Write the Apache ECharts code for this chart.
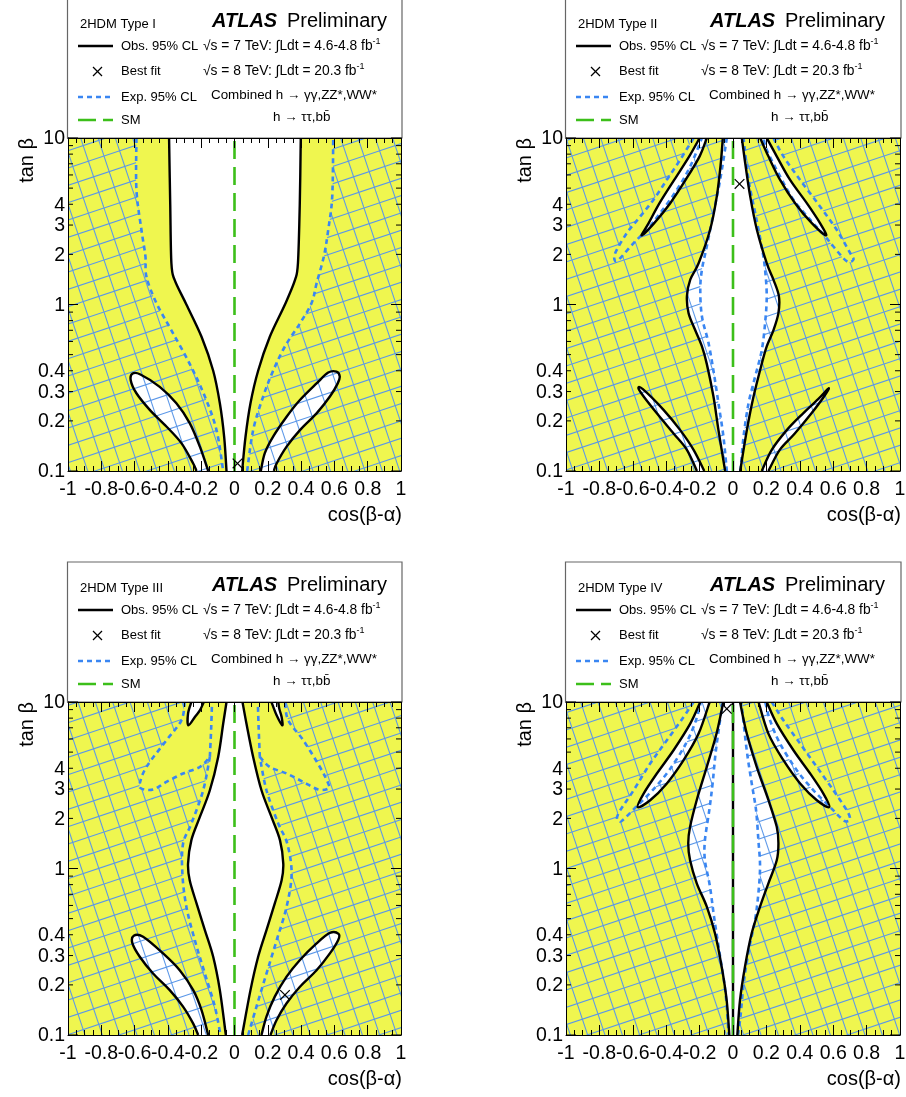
<!DOCTYPE html>
<html>
<head>
<meta charset="utf-8">
<title>2HDM tan beta vs cos(beta-alpha)</title>
<script src="https://cdn.jsdelivr.net/npm/echarts/dist/echarts.min.js"></script>
<style>html,body{margin:0;padding:0;background:#fff;}#chart{width:906px;height:1097px;}</style>
</head>
<body>
<div id="chart"></div>
<script>
// ================= DATA =================
const panelTitles = ['2HDM Type I', '2HDM Type II', '2HDM Type III', '2HDM Type IV'];
const xAxisTitle = 'cos(β-α)';
const yAxisTitle = 'tan β';
const yTickLabels = ['0.1', '0.2', '0.3', '0.4', '1', '2', '3', '4', '10'];
const yMajorTicks = [0.1, 1, 10];
const yMinorTicks = [0.2, 0.3, 0.4, 0.5, 0.6, 0.7, 0.8, 0.9, 2, 3, 4, 5, 6, 7, 8, 9];
const legendLabels = ['Obs. 95% CL', 'Best fit', 'Exp. 95% CL', 'SM'];

// ---- Type I ----
const p1ObsCL = [[-0.393,10],[-0.386,4],[-0.379,1.77],[-0.359,1.4],[-0.289,1.0],[-0.198,0.64],[-0.128,0.40],[-0.088,0.255],[-0.062,0.16],[-0.048,0.1]];
const p1ObsCR = [[0.398,10],[0.392,4],[0.381,1.77],[0.363,1.4],[0.303,1.0],[0.212,0.64],[0.142,0.40],[0.096,0.255],[0.066,0.16],[0.046,0.1]];
const p1ExpL = [[-0.589,10],[-0.589,4.89],[-0.559,2.81],[-0.535,1.95],[-0.529,1.47],[-0.469,1.02],[-0.379,0.70],[-0.269,0.44],[-0.178,0.28],[-0.108,0.176],[-0.068,0.1]];
const p1ExpR = [[0.593,10],[0.587,4.46],[0.563,2.81],[0.537,1.95],[0.493,1.34],[0.463,1.02],[0.393,0.77],[0.303,0.56],[0.232,0.40],[0.172,0.28],[0.112,0.176],[0.076,0.1]];
const p1PetalL = [[-0.228,0.1],[-0.248,0.111],[-0.319,0.147],[-0.409,0.185],[-0.509,0.233],[-0.589,0.293],[-0.623,0.35],[-0.612,0.385],[-0.565,0.38],[-0.449,0.32],[-0.349,0.255],[-0.269,0.194],[-0.208,0.14],[-0.158,0.1]];
const p1PetalR = [[0.158,0.1],[0.182,0.128],[0.232,0.161],[0.313,0.212],[0.393,0.267],[0.493,0.336],[0.563,0.39],[0.612,0.395],[0.632,0.37],[0.62,0.336],[0.573,0.28],[0.493,0.222],[0.393,0.176],[0.313,0.14],[0.253,0.111],[0.236,0.1]];
const p1Best = [0.018, 0.111];

// ---- Type II ----
const p2ObsCL = [[-0.061,10],[-0.073,7.08],[-0.097,4.46],[-0.137,2.81],[-0.206,1.77],[-0.256,1.41],[-0.276,1.12],[-0.266,0.887],[-0.226,0.70],[-0.186,0.56],[-0.157,0.44],[-0.117,0.28],[-0.087,0.176],[-0.047,0.1]];
const p2ObsCR = [[0.053,10],[0.073,7.08],[0.103,4.46],[0.143,2.81],[0.202,1.77],[0.242,1.41],[0.275,1.12],[0.272,0.887],[0.242,0.70],[0.202,0.56],[0.172,0.44],[0.123,0.28],[0.083,0.176],[0.043,0.1]];
const p2ExpCL = [[-0.037,10],[-0.077,5.6],[-0.117,3.54],[-0.157,2.23],[-0.186,1.62],[-0.196,1.23],[-0.186,0.847],[-0.147,0.59],[-0.117,0.40],[-0.087,0.255],[-0.057,0.16],[-0.037,0.1]];
const p2ExpCR = [[0.063,10],[0.093,5.6],[0.133,3.54],[0.172,2.23],[0.192,1.62],[0.202,1.12],[0.192,0.77],[0.172,0.53],[0.133,0.37],[0.093,0.255],[0.063,0.16],[0.045,0.1]];
const p2ObsWingL = [[-0.2,10],[-0.262,7.76],[-0.352,5.6],[-0.44,4.06],[-0.505,3.08],[-0.547,2.6],[-0.472,3.08],[-0.376,4.06],[-0.284,5.6],[-0.2,7.76],[-0.157,10]];
const p2ObsWingR = [[0.163,10],[0.212,7.76],[0.282,5.6],[0.372,4.06],[0.472,3.08],[0.557,2.6],[0.521,3.08],[0.442,4.06],[0.342,5.6],[0.262,7.76],[0.202,10]];
const p2ExpWingL = [[-0.236,10],[-0.316,7.41],[-0.396,5.61],[-0.476,4.26],[-0.555,3.38],[-0.635,2.69],[-0.705,2.04],[-0.705,1.82],[-0.675,1.9],[-0.595,2.34],[-0.516,2.81],[-0.436,3.54],[-0.336,4.89],[-0.256,6.76],[-0.186,10]];
const p2ExpWingR = [[0.242,10],[0.302,7.76],[0.402,5.6],[0.521,3.88],[0.621,2.81],[0.701,2.04],[0.721,1.86],[0.681,1.82],[0.601,2.23],[0.551,2.57],[0.462,3.23],[0.362,4.26],[0.282,5.88],[0.202,8.5],[0.183,10]];
const p2PetalL = [[-0.216,0.1],[-0.276,0.134],[-0.356,0.168],[-0.456,0.222],[-0.535,0.28],[-0.566,0.314],[-0.54,0.31],[-0.416,0.233],[-0.316,0.176],[-0.236,0.134],[-0.172,0.1]];
const p2PetalR = [[0.172,0.1],[0.232,0.134],[0.322,0.176],[0.42,0.222],[0.51,0.27],[0.573,0.314],[0.545,0.28],[0.47,0.222],[0.37,0.168],[0.28,0.134],[0.212,0.1]];
const p2Best = [0.039, 5.3];

// ---- Type III ----
const p3ObsCL = [[-0.048,10],[-0.068,7.4],[-0.098,4.68],[-0.148,2.95],[-0.208,2.04],[-0.259,1.48],[-0.279,1.07],[-0.269,0.85],[-0.228,0.617],[-0.178,0.427],[-0.128,0.295],[-0.088,0.186],[-0.052,0.1]];
const p3ObsCR = [[0.048,10],[0.072,7.4],[0.112,4.68],[0.162,2.95],[0.222,2.04],[0.273,1.48],[0.293,1.07],[0.283,0.85],[0.242,0.617],[0.192,0.427],[0.142,0.295],[0.096,0.186],[0.046,0.1]];
const p3ExpLA = [[-0.299,10],[-0.319,7.76],[-0.409,5.89],[-0.529,4.07],[-0.569,3.24],[-0.559,3.02],[-0.489,2.98],[-0.409,3.31],[-0.309,3.72],[-0.208,4.07],[-0.148,4.68]];
const p3ExpLB = [[-0.148,4.68],[-0.188,2.95],[-0.259,1.86],[-0.309,1.41],[-0.313,0.93],[-0.289,0.59],[-0.238,0.37],[-0.178,0.234],[-0.118,0.148],[-0.084,0.1]];
const p3ExpRA = [[0.303,10],[0.323,7.76],[0.413,5.89],[0.513,4.07],[0.563,3.24],[0.563,3.02],[0.503,2.98],[0.413,3.31],[0.313,3.72],[0.212,4.07],[0.152,4.68]];
const p3ExpRB = [[0.152,4.68],[0.192,2.95],[0.263,1.86],[0.317,1.41],[0.343,0.93],[0.313,0.59],[0.253,0.37],[0.192,0.234],[0.132,0.148],[0.082,0.1]];
const p3ExpInL = [[-0.148,4.68],[-0.14,7],[-0.135,10]];
const p3ExpInR = [[0.152,4.68],[0.145,7],[0.14,10]];
const p3PetalTL = [[-0.259,10],[-0.279,8.51],[-0.277,7.24],[-0.238,8.13],[-0.208,8.9],[-0.184,10]];
const p3PetalTR = [[0.222,10],[0.253,8.32],[0.287,7.24],[0.283,8.13],[0.269,9.1],[0.263,10]];
const p3PetalL = [[-0.218,0.1],[-0.248,0.117],[-0.309,0.148],[-0.389,0.186],[-0.489,0.234],[-0.569,0.295],[-0.613,0.355],[-0.605,0.395],[-0.549,0.389],[-0.429,0.309],[-0.329,0.245],[-0.248,0.186],[-0.198,0.141],[-0.158,0.1]];
const p3PetalR = [[0.162,0.1],[0.192,0.129],[0.242,0.17],[0.313,0.224],[0.393,0.282],[0.493,0.355],[0.573,0.41],[0.625,0.405],[0.623,0.372],[0.573,0.309],[0.493,0.245],[0.393,0.195],[0.313,0.155],[0.253,0.123],[0.216,0.1]];
const p3Best = [0.303, 0.174];

// ---- Type IV ----
const p4ObsCL = [[-0.058,10],[-0.098,6.49],[-0.157,4.08],[-0.217,2.58],[-0.257,1.78],[-0.268,1.42],[-0.257,1.12],[-0.217,0.815],[-0.157,0.59],[-0.108,0.408],[-0.068,0.258],[-0.038,0.162],[-0.022,0.1]];
const p4ObsCR = [[0.042,10],[0.082,6.49],[0.142,4.08],[0.212,2.58],[0.262,1.78],[0.272,1.42],[0.262,1.12],[0.212,0.815],[0.162,0.59],[0.112,0.408],[0.072,0.258],[0.042,0.162],[0.026,0.1]];
const p4ExpCL = [[-0.062,10],[-0.102,5.15],[-0.122,3.25],[-0.142,2.24],[-0.168,1.48],[-0.168,1.12],[-0.138,0.78],[-0.112,0.5],[-0.078,0.3],[-0.045,0.18],[-0.026,0.1]];
const p4ExpCR = [[0.05,10],[0.082,5.15],[0.112,3.25],[0.138,2.24],[0.152,1.48],[0.162,1.03],[0.152,0.71],[0.132,0.49],[0.095,0.324],[0.064,0.205],[0.045,0.13],[0.03,0.1]];
const p4ObsWingL = [[-0.196,10],[-0.256,7.41],[-0.356,5.13],[-0.456,3.72],[-0.535,2.82],[-0.571,2.34],[-0.496,2.57],[-0.396,3.24],[-0.296,4.47],[-0.206,6.46],[-0.14,10]];
const p4ObsWingR = [[0.153,10],[0.212,6.46],[0.302,4.47],[0.402,3.24],[0.502,2.57],[0.577,2.34],[0.541,2.82],[0.462,3.72],[0.362,5.13],[0.262,7.41],[0.202,10]];
const p4ExpWingL = [[-0.236,10],[-0.296,8.13],[-0.396,5.89],[-0.496,4.27],[-0.595,2.95],[-0.675,2.24],[-0.695,2.0],[-0.68,1.93],[-0.661,1.95],[-0.581,2.34],[-0.482,2.95],[-0.382,3.89],[-0.282,5.62],[-0.222,7.76],[-0.193,10]];
const p4ExpWingR = [[0.232,10],[0.302,7.76],[0.402,5.62],[0.502,4.07],[0.601,2.95],[0.681,2.24],[0.701,2.0],[0.69,1.93],[0.661,1.95],[0.581,2.34],[0.482,2.95],[0.382,3.89],[0.282,5.62],[0.222,7.76],[0.193,10]];
const p4ObsMid = [[0, 0.1], [0, 10]];
const p4Best = [-0.037, 9.1];

const smLine = [[0, 0.1], [0, 10]];

// ================= STYLE / LAYOUT =================
const FONT = '"Liberation Sans", Arial, Helvetica, sans-serif';
const YELLOW = '#eff64f';
const HATCH = '#5b97e8';
const EXP_BLUE = '#3a86f2';
const SM_GREEN = '#3cbf1a';
const grids = [
  { left: 68, top: 138, width: 333, height: 333 },
  { left: 566, top: 138, width: 334, height: 333 },
  { left: 68, top: 702, width: 333, height: 333 },
  { left: 566, top: 702, width: 334, height: 333 }
];

const rev = a => a.slice().reverse();
const panels = [
  { obs: [[p1ObsCL, rev(p1ObsCR)], [p1PetalL], [p1PetalR]],
    exp: [[p1ExpL, rev(p1ExpR)]], best: p1Best },
  { obs: [[p2ObsCL, rev(p2ObsCR)], [p2ObsWingL], [p2ObsWingR], [p2PetalL], [p2PetalR]],
    exp: [[p2ExpCL, rev(p2ExpCR)], [p2ExpWingL], [p2ExpWingR]], best: p2Best },
  { obs: [[p3ObsCL, rev(p3ObsCR)], [p3PetalTL], [p3PetalTR], [p3PetalL], [p3PetalR]],
    exp: [[p3ExpLA, p3ExpLB, rev(p3ExpRB), rev(p3ExpRA)]], expExtra: [p3ExpInL, p3ExpInR], best: p3Best },
  { obs: [[p4ObsCL, rev(p4ObsCR)], [p4ObsWingL], [p4ObsWingR]],
    exp: [[p4ExpCL, rev(p4ExpCR)], [p4ExpWingL], [p4ExpWingR]], obsExtra: [p4ObsMid], best: p4Best }
];

// periodic hatch tile: square grid rotated by atan(1/3)
function makeTile() {
  const P = 52, c = document.createElement('canvas');
  c.width = P; c.height = P;
  const g = c.getContext('2d');
  g.strokeStyle = HATCH; g.lineWidth = 1.05;
  for (let n = -2; n <= 6; n++) { g.beginPath(); g.moveTo(-60, (P * n + 60) / 3); g.lineTo(120, (P * n - 120) / 3); g.stroke(); }
  for (let n = -3; n <= 5; n++) { g.beginPath(); g.moveTo((P * n - 60) / 3, -60); g.lineTo((P * n + 120) / 3, 120); g.stroke(); }
  return c;
}
const TILE = makeTile();

const f = v => v.toFixed(2);
function chainD(pts, first) {
  let d = (first ? 'M' : 'L') + f(pts[0][0]) + ' ' + f(pts[0][1]);
  for (let i = 0; i < pts.length - 1; i++) {
    const p0 = pts[i - 1] || pts[i], p1 = pts[i], p2 = pts[i + 1], p3 = pts[i + 2] || pts[i + 1];
    d += ' C' + f(p1[0] + (p2[0] - p0[0]) / 6) + ' ' + f(p1[1] + (p2[1] - p0[1]) / 6) + ' ' +
      f(p2[0] - (p3[0] - p1[0]) / 6) + ' ' + f(p2[1] - (p3[1] - p1[1]) / 6) + ' ' + f(p2[0]) + ' ' + f(p2[1]);
  }
  return d;
}
function ringD(chains) { return chains.map((c, k) => chainD(c, k === 0)).join(' ') + ' Z'; }
function area(pts) { let s = 0; for (let i = 0; i < pts.length; i++) { const a = pts[i], b = pts[(i + 1) % pts.length]; s += a[0] * b[1] - b[0] * a[1]; } return s / 2; }

function makeMainRender(P) {
  return function (params, api) {
    const cs = params.coordSys;
    const x0 = cs.x, y0 = cs.y, x1 = cs.x + cs.width, y1 = cs.y + cs.height;
    const toPx = ch => ch.map(p => api.coord(p));
    const kids = [];
    kids.push({ type: 'rect', shape: { x: x0, y: y0, width: cs.width, height: cs.height }, style: { fill: YELLOW } });
    kids.push({ type: 'path', shape: { pathData: P.obs.map(r => ringD(r.map(toPx))).join(' ') }, style: { fill: '#fff' } });
    const rectPts = [[x0, y0], [x1, y0], [x1, y1], [x0, y1]];
    const rs = Math.sign(area(rectPts));
    let hd = 'M' + x0 + ' ' + y0 + ' L' + x1 + ' ' + y0 + ' L' + x1 + ' ' + y1 + ' L' + x0 + ' ' + y1 + ' Z';
    P.exp.forEach(r => {
      let chs = r.map(toPx);
      if (Math.sign(area([].concat(...chs))) === rs) chs = chs.slice().reverse().map(c => c.slice().reverse());
      hd += ' ' + ringD(chs);
    });
    kids.push({ type: 'path', shape: { pathData: hd }, style: { fill: { image: TILE, repeat: 'repeat' } } });
    const expLines = [].concat(...P.exp).concat(P.expExtra || []);
    expLines.forEach(c => kids.push({ type: 'path', shape: { pathData: chainD(toPx(c), true) },
      style: { fill: 'none', stroke: EXP_BLUE, lineWidth: 2.6, lineDash: [5, 4] } }));
    const obsLines = [].concat(...P.obs).concat(P.obsExtra || []);
    obsLines.forEach(c => kids.push({ type: 'path', shape: { pathData: chainD(toPx(c), true) },
      style: { fill: 'none', stroke: '#000', lineWidth: 2.4 } }));
    const s0 = api.coord(smLine[0]), s1 = api.coord(smLine[1]);
    kids.push({ type: 'line', shape: { x1: s0[0], y1: s0[1], x2: s1[0], y2: s1[1] },
      style: { stroke: SM_GREEN, lineWidth: 2.6, lineDash: [18, 8] } });
    const b = api.coord(P.best), r = 4.8;
    kids.push({ type: 'line', shape: { x1: b[0] - r, y1: b[1] - r, x2: b[0] + r, y2: b[1] + r }, style: { stroke: '#000', lineWidth: 1.2 } });
    kids.push({ type: 'line', shape: { x1: b[0] - r, y1: b[1] + r, x2: b[0] + r, y2: b[1] - r }, style: { stroke: '#000', lineWidth: 1.2 } });
    return { type: 'group', children: kids };
  };
}

function tickRender(params, api) {
  const cs = params.coordSys, xl = cs.x, xr = cs.x + cs.width;
  const ch = [];
  const tick = (v, len) => {
    const y = api.coord([-1, v])[1];
    ch.push({ type: 'line', shape: { x1: xl, y1: y, x2: xl + len, y2: y }, style: { stroke: '#000', lineWidth: 1 } });
    ch.push({ type: 'line', shape: { x1: xr, y1: y, x2: xr - len, y2: y }, style: { stroke: '#000', lineWidth: 1 } });
  };
  yMajorTicks.forEach(v => tick(v, 10));
  yMinorTicks.forEach(v => tick(v, 5));
  yTickLabels.forEach(s => {
    const y = api.coord([-1, parseFloat(s)])[1];
    ch.push({ type: 'text', x: xl - 3, y: y + 1, style: { text: s, font: '19.5px ' + FONT, fill: '#000',
      align: 'right', textAlign: 'right', verticalAlign: 'middle', textVerticalAlign: 'middle' } });
  });
  return { type: 'group', children: ch };
}

function txt(x, y, text, font, align, rich) {
  const st = { text: text, font: font, fill: '#000', align: align || 'left', textAlign: align || 'left',
    verticalAlign: 'middle', textVerticalAlign: 'middle' };
  if (rich) st.rich = rich;
  return { type: 'text', x: x, y: y, style: st };
}

function panelGraphics(i) {
  const g = grids[i], L = g.left, T = g.top, R = g.left + g.width, B = g.top + g.height;
  const F13 = '13px ' + FONT, F14 = '13.8px ' + FONT;
  const els = [];
  els.push({ type: 'rect', shape: { x: L - 0.5, y: T - 140, width: R - L + 1.5, height: 140 },
    style: { fill: '#fff', stroke: '#666', lineWidth: 1.2 } });
  els.push(txt(L + 12, T - 114, panelTitles[i], F13));
  els.push(txt(L + 144, T - 117, 'ATLAS', 'italic bold 20px ' + FONT));
  els.push(txt(L + 219, T - 117, 'Preliminary', '20px ' + FONT));
  // legend samples
  els.push({ type: 'line', shape: { x1: L + 10, y1: T - 92, x2: L + 45, y2: T - 92 }, style: { stroke: '#000', lineWidth: 2.4 } });
  els.push({ type: 'line', shape: { x1: L + 25, y1: T - 71, x2: L + 34, y2: T - 62 }, style: { stroke: '#000', lineWidth: 1.2 } });
  els.push({ type: 'line', shape: { x1: L + 25, y1: T - 62, x2: L + 34, y2: T - 71 }, style: { stroke: '#000', lineWidth: 1.2 } });
  els.push({ type: 'line', shape: { x1: L + 10, y1: T - 41, x2: L + 45, y2: T - 41 }, style: { stroke: EXP_BLUE, lineWidth: 2.6, lineDash: [5, 4] } });
  els.push({ type: 'line', shape: { x1: L + 10, y1: T - 18, x2: L + 45, y2: T - 18 }, style: { stroke: SM_GREEN, lineWidth: 2.6, lineDash: [18, 7] } });
  els.push(txt(L + 53, T - 92, legendLabels[0], F13));
  els.push(txt(L + 53, T - 67, legendLabels[1], F13));
  els.push(txt(L + 53, T - 41, legendLabels[2], F13));
  els.push(txt(L + 53, T - 18, legendLabels[3], F13));
  const rich = { t: { font: F14, fill: '#000' }, s: { font: '9px ' + FONT, fill: '#000', padding: [0, 0, 8, 0] } };
  els.push(txt(L + 135, T - 92, '{t|√s = 7 TeV: ∫Ldt = 4.6-4.8 fb}{s|-1}', F14, 'left', rich));
  els.push(txt(L + 135, T - 67, '{t|√s = 8 TeV: ∫Ldt = 20.3 fb}{s|-1}', F14, 'left', rich));
  els.push(txt(L + 143, T - 43, 'Combined h → γγ,ZZ*,WW*', '13.4px ' + FONT));
  els.push(txt(L + 205, T - 21, 'h → ττ,bb\u0304', '13.4px ' + FONT));
  // axis titles
  els.push({ type: 'text', x: L - 41, y: T, rotation: Math.PI / 2,
    style: { text: yAxisTitle, font: '20px ' + FONT, fill: '#000', align: 'right', textAlign: 'right', verticalAlign: 'middle', textVerticalAlign: 'middle' } });
  els.push(txt(R + 1, B + 44, xAxisTitle, '20px ' + FONT, 'right'));
  return els;
}

const option = { animation: false, backgroundColor: '#fff', grid: [], xAxis: [], yAxis: [], series: [], graphic: { elements: [] } };
grids.forEach((g, i) => {
  option.grid.push(Object.assign({ containLabel: false, outerBoundsMode: 'none' }, g));
  const xBase = {
    gridIndex: i, type: 'value', min: -1, max: 1, interval: 0.2, z: 10,
    axisLine: { show: true, onZero: false, lineStyle: { color: '#000', width: 1 } },
    axisTick: { show: true, inside: true, length: 10, lineStyle: { color: '#000', width: 1 } },
    minorTick: { show: true, splitNumber: 4, length: 5, lineStyle: { color: '#000', width: 1 } },
    splitLine: { show: false }, minorSplitLine: { show: false }
  };
  option.xAxis.push(Object.assign({}, xBase, { position: 'bottom',
    axisLabel: { show: true, fontSize: 19.5, fontFamily: FONT, color: '#000', margin: 9, showMinLabel: true, showMaxLabel: true, hideOverlap: false } }));
  option.xAxis.push(Object.assign({}, xBase, { position: 'top', axisLabel: { show: false } }));
  const yBase = {
    gridIndex: i, type: 'log', logBase: 10, min: 0.1, max: 10, z: 10,
    axisLine: { show: true, onZero: false, lineStyle: { color: '#000', width: 1 } },
    axisTick: { show: false }, minorTick: { show: false }, axisLabel: { show: false },
    splitLine: { show: false }, minorSplitLine: { show: false }
  };
  option.yAxis.push(Object.assign({}, yBase, { position: 'left' }));
  option.yAxis.push(Object.assign({}, yBase, { position: 'right' }));
  option.series.push({ type: 'custom', coordinateSystem: 'cartesian2d', xAxisIndex: 2 * i, yAxisIndex: 2 * i,
    data: [[0, 1]], renderItem: makeMainRender(panels[i]), clip: true, silent: true, z: 2 });
  option.series.push({ type: 'custom', coordinateSystem: 'cartesian2d', xAxisIndex: 2 * i, yAxisIndex: 2 * i,
    data: [[0, 1]], renderItem: tickRender, clip: false, silent: true, z: 12 });
  option.graphic.elements.push(...panelGraphics(i));
});

const chart = echarts.init(document.getElementById('chart'), null, { renderer: 'canvas' });
chart.setOption(option);
</script>
</body>
</html>
